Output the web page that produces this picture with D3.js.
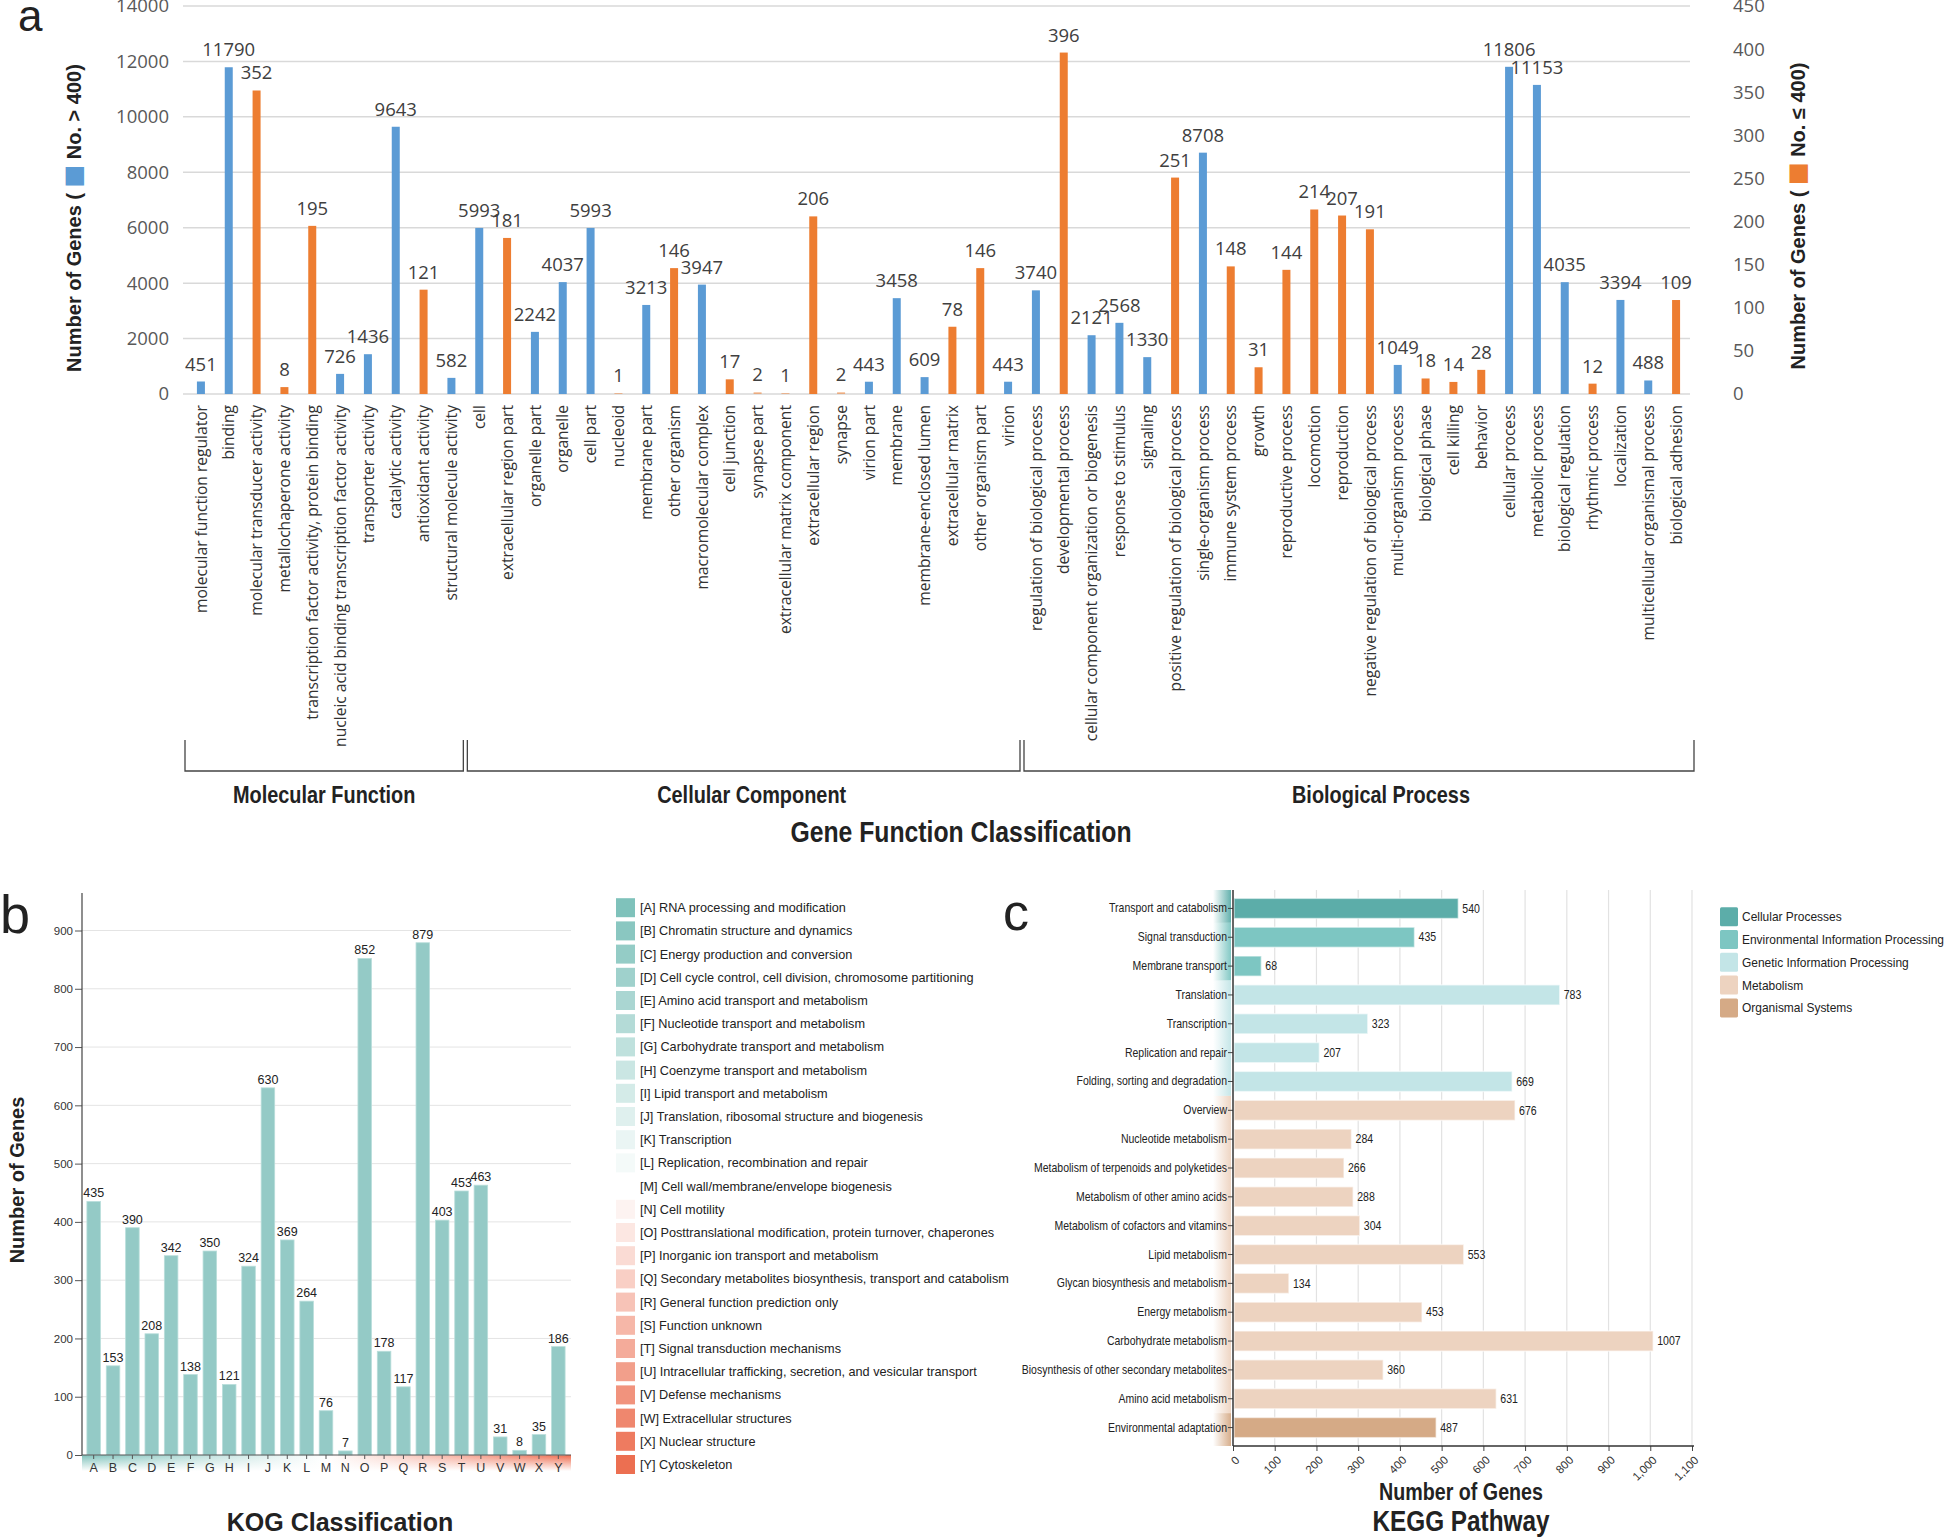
<!DOCTYPE html>
<html>
<head>
<meta charset="utf-8">
<script src="https://cdn.jsdelivr.net/npm/d3@7"></script>
<style>
html,body{margin:0;padding:0;background:#fff;}
svg{display:block;}
</style>
</head>
<body>
<svg id="chart" width="1944" height="1537"></svg>
<script>
// ---------------- DATA ----------------
const goCategories = [
  "molecular function regulator","binding","molecular transducer activity","metallochaperone activity",
  "transcription factor activity, protein binding","nucleic acid binding transcription factor activity",
  "transporter activity","catalytic activity","antioxidant activity","structural molecule activity",
  "cell","extracellular region part","organelle part","organelle","cell part","nucleoid","membrane part",
  "other organism","macromolecular complex","cell junction","synapse part","extracellular matrix component",
  "extracellular region","synapse","virion part","membrane","membrane-enclosed lumen","extracellular matrix",
  "other organism part","virion",
  "regulation of biological process","developmental process","cellular component organization or biogenesis",
  "response to stimulus","signaling","positive regulation of biological process","single-organism process",
  "immune system process","growth","reproductive process","locomotion","reproduction",
  "negative regulation of biological process","multi-organism process","biological phase","cell killing",
  "behavior","cellular process","metabolic process","biological regulation","rhythmic process",
  "localization","multicellular organismal process","biological adhesion"
];
const goValues = [
  451,11790,352,8,195,726,1436,9643,121,582,
  5993,181,2242,4037,5993,1,3213,146,3947,17,2,1,206,2,443,3458,609,78,146,443,
  3740,396,2121,2568,1330,251,8708,148,31,144,214,207,191,1049,18,14,28,11806,11153,4035,12,3394,488,109
];
const goGroupNames = ["Molecular Function","Cellular Component","Biological Process"];
const goGroupSizes = [10,20,24];
const goLeftTicks = [0,2000,4000,6000,8000,10000,12000,14000];
const goRightTicks = [0,50,100,150,200,250,300,350,400,450];

const kogCodes = ["A","B","C","D","E","F","G","H","I","J","K","L","M","N","O","P","Q","R","S","T","U","V","W","X","Y"];
const kogValues = [435,153,390,208,342,138,350,121,324,630,369,264,76,7,852,178,117,879,403,453,463,31,8,35,186];
const kogNames = [
  "RNA processing and modification","Chromatin structure and dynamics","Energy production and conversion",
  "Cell cycle control, cell division, chromosome partitioning","Amino acid transport and metabolism",
  "Nucleotide transport and metabolism","Carbohydrate transport and metabolism","Coenzyme transport and metabolism",
  "Lipid transport and metabolism","Translation, ribosomal structure and biogenesis","Transcription",
  "Replication, recombination and repair","Cell wall/membrane/envelope biogenesis","Cell motility",
  "Posttranslational modification, protein turnover, chaperones","Inorganic ion transport and metabolism",
  "Secondary metabolites biosynthesis, transport and catabolism","General function prediction only",
  "Function unknown","Signal transduction mechanisms","Intracellular trafficking, secretion, and vesicular transport",
  "Defense mechanisms","Extracellular structures","Nuclear structure","Cytoskeleton"
];
const kogTicks = [0,100,200,300,400,500,600,700,800,900];

const keggCategories = [
  "Transport and catabolism","Signal transduction","Membrane transport","Translation","Transcription",
  "Replication and repair","Folding, sorting and degradation","Overview","Nucleotide metabolism",
  "Metabolism of terpenoids and polyketides","Metabolism of other amino acids","Metabolism of cofactors and vitamins",
  "Lipid metabolism","Glycan biosynthesis and metabolism","Energy metabolism","Carbohydrate metabolism",
  "Biosynthesis of other secondary metabolites","Amino acid metabolism","Environmental adaptation"
];
const keggValues = [540,435,68,783,323,207,669,676,284,266,288,304,553,134,453,1007,360,631,487];
const keggClasses = ["Cellular Processes","Environmental Information Processing","Environmental Information Processing",
  "Genetic Information Processing","Genetic Information Processing","Genetic Information Processing","Genetic Information Processing",
  "Metabolism","Metabolism","Metabolism","Metabolism","Metabolism","Metabolism","Metabolism","Metabolism","Metabolism",
  "Metabolism","Metabolism","Organismal Systems"];
const keggClassNames = ["Cellular Processes","Environmental Information Processing","Genetic Information Processing","Metabolism","Organismal Systems"];
const keggTicks = [0,100,200,300,400,500,600,700,800,900,1000,1100];

// ---------------- STYLE ----------------
const BLUE = "#5b9bd5", ORANGE = "#ed7d31";
const keggColors = ["#5cada9","#7dc6c2","#c3e5e7","#edd3c0","#d5aa86"];
const svg = d3.select("#chart");
const SANS = "'Liberation Sans',Arial,sans-serif";
const OPEN = "'Open Sans',sans-serif";

const defs = svg.append("defs");

// condensed text helper (horizontal squeeze)
function narrow(g, x, y, s, txt, size, anchor, weight){
  return g.append("text").attr("transform",`translate(${x},${y}) scale(${s},1)`)
    .attr("text-anchor",anchor||"start").attr("font-family",SANS).attr("font-size",size)
    .attr("font-weight",weight||"normal").attr("fill","#222").text(txt);
}

// ================= PANEL A =================
const gA = svg.append("g");
const xA = d3.scaleBand().domain(goCategories).range([187,1690]);
const yL = d3.scaleLinear().domain([0,14000]).range([394,6]);
const yR = d3.scaleLinear().domain([0,450]).range([394,6]);
const isBig = v => v > 400;

gA.append("text").attr("x",18).attr("y",31).attr("font-family",SANS).attr("font-size",44).attr("fill","#222").text("a");

// gridlines
gA.append("g").selectAll("line").data(goLeftTicks).join("line")
  .attr("x1",183).attr("x2",1690).attr("y1",d=>yL(d)).attr("y2",d=>yL(d))
  .attr("stroke","#d9d9d9").attr("stroke-width",1.5);

// left / right axes (labels only)
const axL = d3.axisLeft(yL).tickValues(goLeftTicks).tickSize(0).tickPadding(0).tickFormat(d3.format("d"));
gA.append("g").attr("transform","translate(169,0)").call(axL)
  .call(g=>g.select(".domain").remove())
  .call(g=>g.selectAll("text").attr("font-family",OPEN).attr("font-size",18.5).attr("fill","#595959"));
const axR = d3.axisRight(yR).tickValues(goRightTicks).tickSize(0).tickPadding(0);
gA.append("g").attr("transform","translate(1733,0)").call(axR)
  .call(g=>g.select(".domain").remove())
  .call(g=>g.selectAll("text").attr("font-family",OPEN).attr("font-size",18.5).attr("fill","#595959"));

// bars
const goData = goCategories.map((c,i)=>({c, v:goValues[i]}));
const barW = 8;
gA.append("g").selectAll("rect").data(goData).join("rect")
  .attr("x",d=>xA(d.c)+xA.bandwidth()/2-barW/2).attr("width",barW)
  .attr("y",d=>isBig(d.v)?yL(d.v):yR(d.v))
  .attr("height",d=>394-(isBig(d.v)?yL(d.v):yR(d.v)))
  .attr("fill",d=>isBig(d.v)?BLUE:ORANGE)
  .attr("opacity",d=>d.v<=2?0.55:1);
gA.append("g").selectAll("text").data(goData).join("text")
  .attr("x",d=>xA(d.c)+xA.bandwidth()/2)
  .attr("y",d=>(isBig(d.v)?yL(d.v):yR(d.v))-11)
  .attr("text-anchor","middle").attr("font-family",OPEN).attr("font-size",18.5).attr("fill","#404040")
  .text(d=>d.v);

// category labels
gA.append("g").selectAll("text").data(goCategories).join("text")
  .attr("transform",d=>`translate(${xA(d)+xA.bandwidth()/2},405) rotate(-90)`)
  .attr("text-anchor","end").attr("dy","0.36em")
  .attr("font-family",OPEN).attr("font-size",15.6).attr("fill","#333")
  .text(d=>d);

// brackets and group labels
let start = 0;
const groupLabelOffsets = [0,8,22];
goGroupNames.forEach((name,gi)=>{
  const s = start, e = start + goGroupSizes[gi] - 1;
  start += goGroupSizes[gi];
  const x0 = xA(goCategories[s]) + (gi===0?-2:2);
  const x1 = xA(goCategories[e]) + xA.bandwidth() + (gi===2?4:-2);
  gA.append("path").attr("d",`M${x0},740V771H${x1}V740`).attr("fill","none").attr("stroke","#444").attr("stroke-width",1.3);
  narrow(gA,(x0+x1)/2+groupLabelOffsets[gi],803,0.865,name,23,"middle","bold");
});
narrow(gA,961,842,0.825,"Gene Function Classification",30,"middle","bold");

// axis titles
function sideTitle(x,y,color,tail){
  const t = gA.append("text").attr("transform",`translate(${x},${y}) rotate(-90)`).attr("text-anchor","middle")
    .attr("font-family",SANS).attr("font-weight","bold").attr("font-size",20).attr("fill","#222");
  t.append("tspan").text("Number of Genes ( ");
  t.append("tspan").attr("fill",color).attr("font-family","'DejaVu Sans',sans-serif").attr("font-size",24).text("■");
  t.append("tspan").text(" "+tail);
}
sideTitle(81,218,BLUE,"No. > 400)");
sideTitle(1805,216,ORANGE,"No. ≤ 400)");

// ================= PANEL B =================
const gB = svg.append("g");
gB.append("text").attr("x",0).attr("y",933).attr("font-family",SANS).attr("font-size",54).attr("fill","#222").text("b");
const xB = d3.scaleBand().domain(kogCodes).range([84,568]).paddingInner(0.3).paddingOuter(0.15);
const yB = d3.scaleLinear().domain([0,900]).range([1455,930.5]);
const kogColor = d3.scaleLinear().domain([0,12,24]).range(["#7fc2bb","#ffffff","#ec6f51"]);

gB.append("g").selectAll("line").data(kogTicks.slice(1)).join("line")
  .attr("x1",82).attr("x2",571).attr("y1",d=>yB(d)).attr("y2",d=>yB(d))
  .attr("stroke","#e4e4e4").attr("stroke-width",1);

// gradient strip below x axis
const gh = defs.append("linearGradient").attr("id","kogStrip").attr("x1","0").attr("x2","1").attr("y1","0").attr("y2","0");
gh.append("stop").attr("offset","0%").attr("stop-color","#7fc2bb");
gh.append("stop").attr("offset","50%").attr("stop-color","#ffffff");
gh.append("stop").attr("offset","100%").attr("stop-color","#ee6a4c");
const gv = defs.append("linearGradient").attr("id","kogFade").attr("x1","0").attr("x2","0").attr("y1","0").attr("y2","1");
gv.append("stop").attr("offset","0%").attr("stop-color","#fff").attr("stop-opacity",0);
gv.append("stop").attr("offset","100%").attr("stop-color","#fff").attr("stop-opacity",1);
gB.append("rect").attr("x",82).attr("y",1455).attr("width",489).attr("height",16).attr("fill","url(#kogStrip)");
gB.append("rect").attr("x",82).attr("y",1455).attr("width",489).attr("height",16).attr("fill","url(#kogFade)");

const kogData = kogCodes.map((c,i)=>({c,v:kogValues[i]}));
gB.append("g").selectAll("rect").data(kogData).join("rect")
  .attr("x",d=>xB(d.c)).attr("width",xB.bandwidth())
  .attr("y",d=>yB(d.v)).attr("height",d=>1455-yB(d.v))
  .attr("fill","#94cac6").attr("stroke","#b9dedb").attr("stroke-width",0.8);
gB.append("g").selectAll("text").data(kogData).join("text")
  .attr("x",d=>xB(d.c)+xB.bandwidth()/2).attr("y",d=>yB(d.v)-4)
  .attr("text-anchor","middle").attr("font-family",SANS).attr("font-size",12.5).attr("fill","#222").text(d=>d.v);

const axB = d3.axisLeft(yB).tickValues(kogTicks).tickSize(7).tickPadding(2);
gB.append("g").attr("transform","translate(82,0)").call(axB)
  .call(g=>g.select(".domain").remove())
  .call(g=>g.selectAll("line").attr("stroke","#555"))
  .call(g=>g.selectAll("text").attr("font-family",SANS).attr("font-size",11.5).attr("fill","#333"));
gB.append("line").attr("x1",82).attr("x2",82).attr("y1",893).attr("y2",1455).attr("stroke","#444").attr("stroke-width",1.2);
const axBx = d3.axisBottom(xB).tickSize(4).tickPadding(4);
gB.append("g").attr("transform","translate(0,1455)").call(axBx)
  .call(g=>g.select(".domain").remove())
  .call(g=>g.selectAll("line").attr("stroke","#555"))
  .call(g=>g.selectAll("text").attr("font-family",SANS).attr("font-size",12.5).attr("fill","#333"));
gB.append("line").attr("x1",82).attr("x2",571).attr("y1",1455).attr("y2",1455).attr("stroke","#555").attr("stroke-width",1.2);

gB.append("text").attr("transform","translate(24,1180) rotate(-90)").attr("text-anchor","middle")
  .attr("font-family",SANS).attr("font-weight","bold").attr("font-size",20).attr("fill","#222").text("Number of Genes");
gB.append("text").attr("x",340).attr("y",1531).attr("text-anchor","middle")
  .attr("font-family",SANS).attr("font-weight","bold").attr("font-size",25).attr("fill","#222").text("KOG Classification");

// legend b
const legB = gB.append("g").selectAll("g").data(kogCodes).join("g")
  .attr("transform",(d,i)=>`translate(616,${907.7+i*23.2})`);
legB.append("rect").attr("x",0).attr("y",-9.5).attr("width",19).attr("height",19)
  .attr("fill",(d,i)=>kogColor(i));
legB.append("text").attr("x",24).attr("dy","0.35em").attr("font-family",SANS).attr("font-size",12.7).attr("fill","#222")
  .text((d,i)=>`[${d}] ${kogNames[i]}`);

// ================= PANEL C =================
const gC = svg.append("g");
gC.append("text").attr("x",1003).attr("y",930).attr("font-family",SANS).attr("font-size",52).attr("fill","#222").text("c");
const xC = d3.scaleLinear().domain([0,1100]).range([1233,1692]);
const yC = d3.scaleBand().domain(keggCategories).range([894,1442]).paddingInner(0.3).paddingOuter(0.15);
const classColor = d3.scaleOrdinal().domain(keggClassNames).range(keggColors);

gC.append("g").selectAll("line").data(keggTicks.slice(1)).join("line")
  .attr("x1",d=>xC(d)).attr("x2",d=>xC(d)).attr("y1",890).attr("y2",1446)
  .attr("stroke","#e2e2e2").attr("stroke-width",1.2);

keggClassNames.forEach((cls,ci)=>{
  const idx = keggClasses.map((c,i)=>c===cls?i:-1).filter(i=>i>=0);
  const y0 = ci===0 ? 890 : yC(keggCategories[idx[0]]) - yC.step()*yC.paddingInner()/2;
  const y1 = ci===keggClassNames.length-1 ? 1446 : yC(keggCategories[idx[idx.length-1]]) + yC.bandwidth() + yC.step()*yC.paddingInner()/2;
  const gid = "strip"+ci;
  const lg = defs.append("linearGradient").attr("id",gid).attr("x1","0").attr("x2","1");
  lg.append("stop").attr("offset","0%").attr("stop-color",keggColors[ci]).attr("stop-opacity",0);
  lg.append("stop").attr("offset","100%").attr("stop-color",keggColors[ci]).attr("stop-opacity",0.95);
  gC.append("rect").attr("x",1213).attr("y",y0).attr("width",18).attr("height",y1-y0).attr("fill",`url(#${gid})`);
});

const keggData = keggCategories.map((c,i)=>({c,v:keggValues[i],k:keggClasses[i]}));
gC.append("g").selectAll("rect").data(keggData).join("rect")
  .attr("x",xC(0)+1).attr("y",d=>yC(d.c)).attr("height",yC.bandwidth())
  .attr("width",d=>xC(d.v)-xC(0)-1)
  .attr("fill",d=>classColor(d.k)).attr("stroke","rgba(255,255,255,0.55)").attr("stroke-width",1.5);
gC.append("g").selectAll("text").data(keggData).join("text")
  .attr("transform",d=>`translate(${xC(d.v)+4},${yC(d.c)+yC.bandwidth()/2}) scale(0.88,1)`).attr("dy","0.35em")
  .attr("font-family",SANS).attr("font-size",12).attr("fill","#222").text(d=>d.v);

const axC = d3.axisLeft(yC).tickSize(5).tickPadding(1);
gC.append("g").attr("transform","translate(1233,0)").call(axC)
  .call(g=>g.select(".domain").remove())
  .call(g=>g.selectAll("line").attr("stroke","#444"))
  .call(g=>g.selectAll("text").attr("font-family",SANS).attr("font-size",12.5).attr("fill","#222")
     .attr("x",-6/0.84).attr("transform","scale(0.84,1)"));
gC.append("line").attr("x1",1233).attr("x2",1233).attr("y1",890).attr("y2",1446).attr("stroke","#333").attr("stroke-width",1.5);
const axCx = d3.axisBottom(xC).tickValues(keggTicks).tickSize(5).tickFormat(d3.format(","));
gC.append("g").attr("transform","translate(0,1446)").call(axCx)
  .call(g=>g.select(".domain").remove())
  .call(g=>g.selectAll("line").attr("stroke","#444"))
  .call(g=>g.selectAll("text").attr("font-family",SANS).attr("font-size",11.5).attr("fill","#333")
     .attr("text-anchor","end").attr("dy","0.35em").attr("transform","translate(4,12) rotate(-45)").attr("y",0).attr("x",0));
gC.append("line").attr("x1",1233).attr("x2",1694).attr("y1",1446).attr("y2",1446).attr("stroke","#333").attr("stroke-width",1.5);

narrow(gC,1461,1500,0.82,"Number of Genes",24,"middle","bold");
narrow(gC,1461,1531,0.84,"KEGG Pathway",29,"middle","bold");

// legend c
const legC = gC.append("g").selectAll("g").data(keggClassNames).join("g")
  .attr("transform",(d,i)=>`translate(1720,${916.7+i*22.8})`);
legC.append("rect").attr("x",0).attr("y",-9.5).attr("width",18).attr("height",19).attr("rx",1.5)
  .attr("fill",(d,i)=>keggColors[i]);
legC.append("text").attr("transform","translate(22,0) scale(0.92,1)").attr("dy","0.35em")
  .attr("font-family",SANS).attr("font-size",13).attr("fill","#222").text(d=>d);
</script>
</body>
</html>
